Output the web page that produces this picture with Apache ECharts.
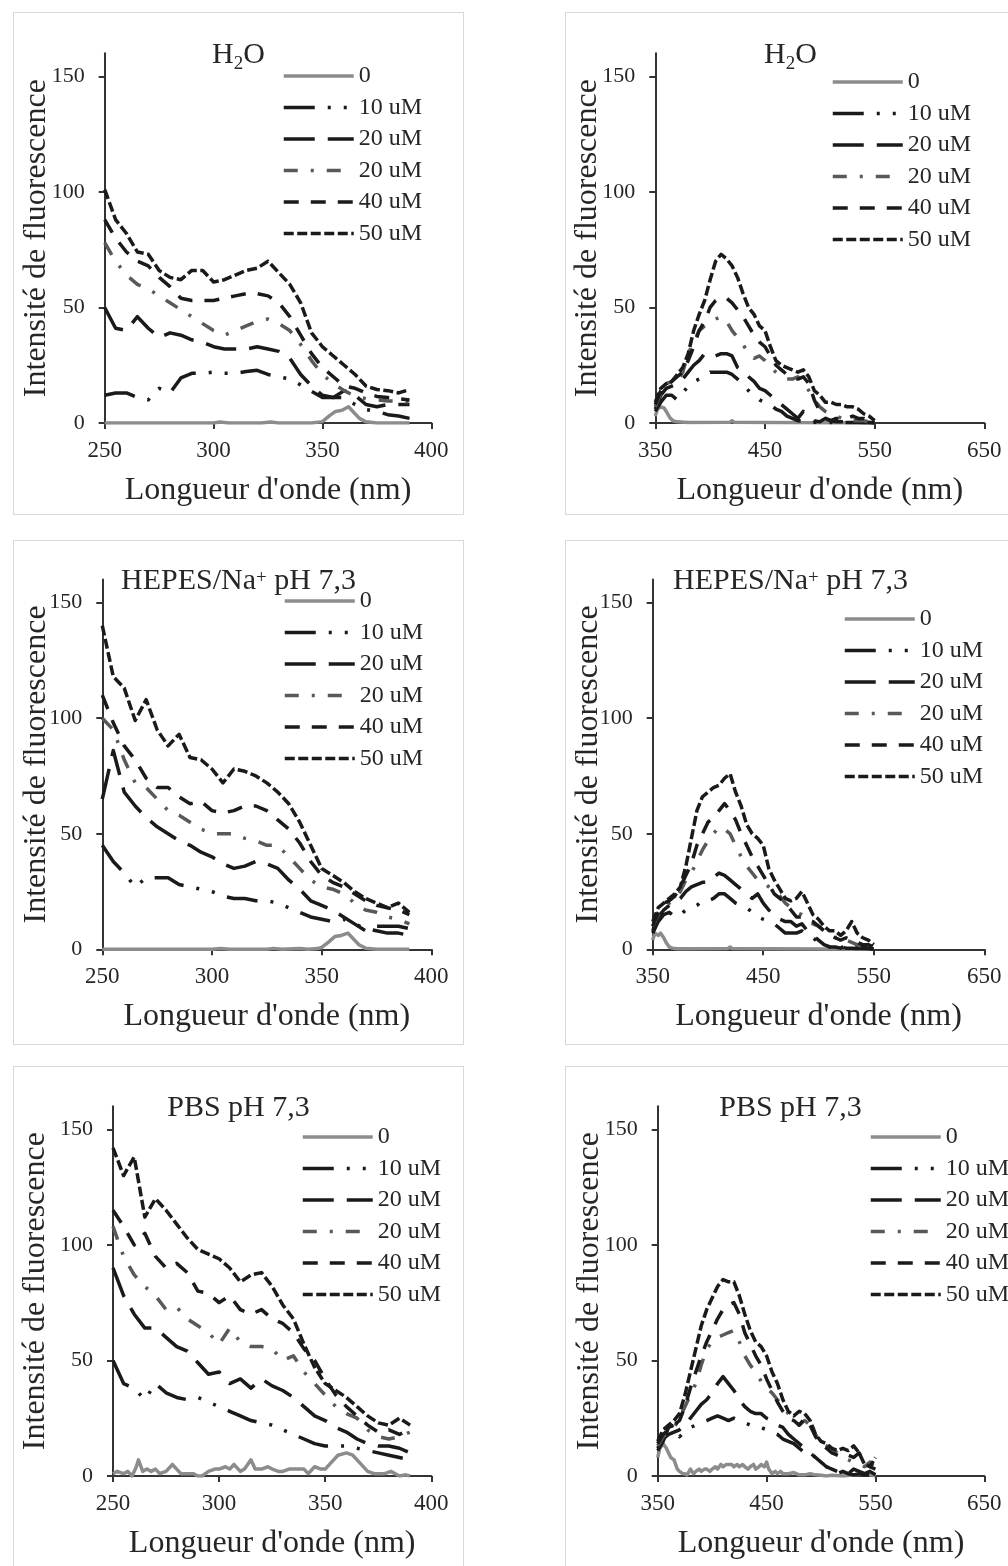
<!DOCTYPE html>
<html lang="fr">
<head>
<meta charset="utf-8">
<title>Spectres de fluorescence</title>
<script src="https://cdn.jsdelivr.net/npm/echarts@6/dist/echarts.min.js"></script>
<style>
  html, body { margin: 0; padding: 0; background: #fff; overflow: hidden; }
  #page { position: relative; width: 1008px; height: 1566px; overflow: hidden; }
  .panel { position: absolute; width: 451px; border: 1.5px solid #d9d9d9; box-sizing: border-box; }
</style>
</head>
<body>
<div id="page">
  <div class="panel" id="p1" style="left:13px;top:12px;height:503px"></div>
  <div class="panel" id="p2" style="left:565px;top:12px;height:503px"></div>
  <div class="panel" id="p3" style="left:13px;top:540px;height:505px"></div>
  <div class="panel" id="p4" style="left:565px;top:540px;height:505px"></div>
  <div class="panel" id="p5" style="left:13px;top:1066px;height:503px"></div>
  <div class="panel" id="p6" style="left:565px;top:1066px;height:503px"></div>
</div>
<script>
// longueurs d'onde (nm)
const lambdaUV = [250, 255, 260, 265, 270, 275, 280, 285, 290, 295, 300, 305, 310, 315, 320,
  325, 330, 335, 340, 345, 350, 355, 360, 365, 370, 375, 380, 385, 390]
const lambdaVis = [350, 355, 360, 365, 370, 375, 380, 385, 390, 395, 400, 405, 410, 415, 420,
  425, 430, 435, 440, 445, 450, 455, 460, 465, 470, 475, 480, 485, 490, 495, 500, 505, 510,
  515, 520, 525, 530, 535, 540, 545, 550]

// graduations
const yTicks = [0, 50, 100, 150]
const xTicksUV = [250, 300, 350, 400]
const xTicksVis = [350, 450, 550, 650]

// légende
const legendNames = ['0', '10 uM', '20 uM', '20 uM ', '40 uM', '50 uM']

// ---- H2O, 250-390 nm ----
const h2oUV0x = [250, 300, 303, 307, 322, 326, 330, 345, 350, 353, 356, 359, 362, 364, 367, 370, 375, 390]
const h2oUV0 = [0, 0, 0.4, 0, 0, 0.4, 0, 0, 0.6, 3, 5, 5.5, 7, 5, 2, 0.5, 0, 0]
const h2oUV10 = [12, 13, 13, 11, 10, 15, 13, 19.5, 21.5, 21.5, 22, 21.5, 21.5, 22.3, 22.8, 21, 20, 19, 16.5, 13.7, 11, 11, 11, 8, 5.8, 5, 3.6, 3, 2]
const h2oUV20a = [50, 41, 40, 46, 41, 37, 39, 38, 36, 35, 33, 32, 32, 32, 33, 32, 31, 28, 21, 16, 12, 11, 14, 12, 8, 7, 8, 8, 8]
const h2oUV20b = [78, 70, 64, 60, 58, 55, 52, 49, 46, 43, 40, 38, 40, 42, 44, 45, 43, 40, 34, 27, 21, 17, 14, 11.5, 10.5, 10, 9.5, 9.5, 9]
const h2oUV40 = [88, 80, 74, 70, 68, 63, 59, 54, 53, 53, 53, 54, 55, 56, 56, 55, 52, 46, 38, 30, 24, 20, 16, 15, 13, 11.5, 11, 10.5, 10]
const h2oUV50 = [101, 88, 82, 74, 73, 66, 63, 62, 66, 66, 61, 62, 64, 66, 67, 70, 65, 60, 52, 39, 33, 29, 25, 21, 16, 14.5, 14, 13, 14.5]

// ---- H2O, 350-550 nm ----
const h2oVis0x = [350, 352, 355, 358, 360, 363, 366, 370, 380, 418, 420, 422, 450, 550]
const h2oVis0 = [3, 6, 7, 6.5, 5, 2.5, 1, 0.5, 0.2, 0.3, 1, 0.3, 0.2, 0]
const h2oVis10 = [5, 9, 12, 12, 10, 13, 16, 18, 19, 20, 22, 22, 22, 22, 21, 19, 17, 14, 12, 10, 9, 8, 6, 5, 3, 2, 1, 1, 0.5, 0.3, 0.2, 0.2, 0.2, 0.2, 0.2, 0.2, 0.2, 0.2, 0.2, 0.2, 0]
const h2oVis20a = [6, 12, 15, 16, 17, 19, 22, 25, 27, 30, 30, 29, 30, 30, 29, 24, 22, 20, 18, 15, 14, 12, 10, 8, 6, 4, 2, 5, 3, 1, 0.5, 2, 1, 0.5, 0.5, 0.5, 0.3, 0.3, 0.2, 0.2, 0]
const h2oVis20b = [7, 13, 17, 18, 18, 22, 30, 35, 40, 42, 44, 45, 46, 44, 40, 37, 34, 30, 28, 29, 27, 24, 22, 20, 19, 19, 20, 18, 14, 10, 7, 5, 4, 3, 2, 2, 1, 1, 1, 0.5, 0]
const h2oVis40 = [8, 14, 16, 18, 20, 22, 27, 33, 40, 44, 50, 53, 54, 54, 52, 49, 46, 42, 38, 35, 33, 29, 25, 23, 21, 20, 19, 20, 17, 10, 5, 2, 1, 2, 2, 2, 3, 2, 2, 1, 0.5]
const h2oVis50 = [9, 15, 17, 18, 21, 24, 30, 40, 47, 53, 62, 70, 73, 71, 68, 63, 56, 50, 47, 42, 40, 33, 27, 25, 24, 23, 22, 23, 20, 14, 12, 9, 9, 8, 8, 7, 7, 6, 4, 3, 1]

// ---- HEPES/Na+, 250-390 nm ----
const hepesUV0x = [250, 300, 304, 308, 325, 328, 332, 340, 344, 348, 350, 353, 356, 359, 362, 364, 367, 370, 375, 390]
const hepesUV0 = [0, 0, 0.3, 0, 0, 0.4, 0, 0.3, 0, 0.3, 0.8, 3, 5.5, 6, 7, 5, 2, 0.5, 0, 0]
const hepesUV10 = [45, 38, 33, 27, 31, 31, 31, 28, 27, 26, 25, 23, 22, 22, 21, 21, 20, 18, 16, 14, 13, 12, 13, 11, 9, 8, 7, 7, 6]
const hepesUV20a = [65, 86, 68, 62, 57, 53, 50, 47, 45, 42, 40, 37, 35, 36, 38, 37, 35, 30, 26, 21, 19, 17, 14, 11, 8, 10, 10, 10, 9]
const hepesUV20b = [100, 95, 82, 72, 70, 65, 60, 58, 55, 52, 50, 50, 50, 48, 47, 45, 45, 40, 35, 30, 27, 26, 24, 20, 17, 16, 14, 13, 11]
const hepesUV40 = [110, 98, 88, 82, 74, 70, 70, 66, 63, 64, 60, 59, 60, 62, 62, 60, 56, 52, 46, 38, 32, 29, 27, 24, 21, 19, 18, 17, 15]
const hepesUV50 = [140, 118, 113, 99, 108, 95, 88, 93, 83, 82, 78, 72, 78, 77, 75, 72, 68, 63, 55, 45, 35, 32, 29, 25, 22, 20, 18, 20, 16]

// ---- HEPES/Na+, 350-550 nm ----
const hepesVis0x = [350, 352, 355, 357, 360, 362, 365, 368, 372, 418, 420, 422, 460, 550]
const hepesVis0 = [4, 7, 6, 7, 5, 3, 1, 0.5, 0.2, 0.3, 1, 0.3, 0.2, 0]
const hepesVis10 = [7, 12, 15, 16, 14, 15, 17, 18, 19, 21, 21, 22, 24, 24, 22, 20, 19, 18, 16, 14, 13, 12, 11, 9, 7, 7, 7, 8, 6, 5, 3, 2, 1, 1, 1, 0.5, 0.5, 0.3, 0.3, 0.2, 0]
const hepesVis20a = [8, 14, 17, 19, 20, 22, 25, 27, 28, 29, 29, 31, 33, 32, 30, 28, 26, 24, 22, 24, 20, 17, 15, 13, 12, 12, 10, 11, 8, 6, 4, 2, 1, 1, 0.5, 2, 1, 2, 1, 0.5, 0]
const hepesVis20b = [10, 15, 18, 20, 22, 25, 30, 33, 38, 43, 47, 50, 53, 52, 50, 45, 40, 36, 33, 30, 29, 27, 25, 23, 20, 18, 16, 15, 13, 11, 10, 8, 6, 5, 6, 4, 3, 2, 1, 1, 0.5]
const hepesVis40 = [10, 16, 20, 21, 23, 27, 32, 37, 45, 50, 55, 57, 60, 63, 60, 56, 50, 45, 40, 36, 32, 28, 24, 22, 20, 17, 14, 14, 13, 12, 10, 8, 6, 5, 4, 5, 4, 3, 2, 2, 1]
const hepesVis50 = [12, 18, 20, 22, 24, 27, 36, 48, 60, 66, 68, 70, 71, 74, 76, 68, 62, 54, 50, 48, 45, 35, 30, 26, 22, 21, 22, 25, 20, 15, 13, 10, 8, 8, 6, 8, 12, 7, 5, 4, 2]

// ---- PBS, 250-390 nm ----
const pbsUV0x = [250, 252, 255, 257, 259, 261, 262, 264, 266, 268, 270, 272, 275, 278, 280, 282, 285, 288, 290, 292,
  295, 298, 300, 303, 305, 307, 310, 312, 315, 317, 320, 323, 325, 328, 330, 333, 335, 338, 340, 342,
  345, 348, 350, 353, 356, 360, 363, 366, 370, 373, 375, 378, 381, 383, 385, 388, 390]
const pbsUV0 = [1, 2, 1, 2, 0, 4, 7, 2, 3, 2, 3, 1, 2, 5, 3, 1, 1, 1, 0, 0,
  2, 3, 3, 4, 3, 5, 2, 3, 7, 3, 3, 4, 3, 2, 2, 3, 3, 3, 3, 1,
  4, 3, 3, 6, 9, 10, 9, 6, 2, 1, 1, 1, 2, 1, 0, 0.5, 0]
const pbsUV10 = [50, 40, 38, 33, 40, 36, 34, 33, 34, 32, 30, 28, 26, 24, 23, 22, 20, 18, 16, 14, 13, 13, 13, 12, 11, 10, 9, 8, 7]
const pbsUV20a = [90, 78, 70, 64, 64, 60, 56, 54, 49, 44, 45, 40, 42, 38, 42, 39, 37, 34, 30, 26, 24, 21, 19, 16, 14, 13, 13, 12, 10]
const pbsUV20b = [108, 95, 87, 82, 78, 72, 73, 68, 65, 62, 57, 64, 58, 56, 56, 55, 50, 52, 45, 40, 35, 30, 27, 25, 20, 17, 16, 17, 19]
const pbsUV40 = [115, 108, 100, 105, 95, 90, 92, 88, 80, 79, 75, 78, 72, 70, 72, 68, 66, 62, 55, 50, 42, 35, 30, 26, 22, 19, 20, 18, 20]
const pbsUV50 = [142, 130, 138, 112, 120, 115, 109, 103, 98, 96, 94, 90, 84, 87, 88, 82, 74, 68, 57, 47, 40, 37, 34, 30, 26, 23, 22, 25, 22]

// ---- PBS, 350-550 nm ----
const pbsVis0x = [350, 352, 355, 358, 360, 362, 365, 368, 370, 373, 375, 377, 380, 383, 385, 388, 390, 393, 395, 398,
  400, 403, 405, 408, 410, 413, 415, 418, 420, 423, 425, 428, 430, 433, 435, 438, 440, 443, 445, 448,
  450, 452, 455, 458, 460, 463, 465, 470, 475, 480, 485, 490, 495, 500, 505, 510, 520, 540, 545, 550]
const pbsVis0 = [8, 12, 14, 12, 10, 8, 7, 3, 2, 1, 1, 0.5, 3, 1, 2, 3, 2, 3, 3, 2,
  3, 4, 3, 5, 4, 5, 5, 5, 4, 5, 4, 5, 4, 3, 4, 5, 3, 4, 5, 4,
  6, 3, 1, 2, 1, 2, 1, 1, 1.5, 0.5, 0.5, 1, 0.5, 0.3, 0, 0.3, 0, 1, 0.5, 0]
const pbsVis10 = [11, 15, 21, 22, 17, 19, 21, 22, 23, 24, 25, 26, 25, 24, 25, 24, 23, 22, 22, 21, 20, 19, 18, 16, 15, 14, 12, 10, 10, 8, 6, 4, 3, 1, 2, 1, 0.5, 1, 0.5, 0.5, 0]
const pbsVis20a = [12, 16, 18, 19, 20, 22, 25, 28, 31, 33, 36, 40, 43, 40, 37, 33, 30, 28, 27, 27, 25, 24, 22, 21, 18, 16, 14, 12, 10, 8, 6, 4, 3, 2, 2, 1, 3, 2, 1, 2, 0.5]
const pbsVis20b = [13, 17, 19, 21, 25, 30, 35, 40, 48, 55, 58, 60, 61, 62, 63, 58, 52, 48, 45, 41, 38, 36, 33, 30, 27, 24, 22, 24, 22, 18, 14, 13, 12, 10, 8, 7, 6, 5, 4, 6, 3]
const pbsVis40 = [14, 18, 20, 22, 24, 30, 38, 45, 52, 58, 63, 68, 72, 74, 75, 70, 62, 57, 52, 48, 42, 37, 32, 28, 25, 24, 22, 25, 22, 17, 14, 12, 10, 9, 8, 9, 8, 10, 6, 4, 3]
const pbsVis50 = [15, 20, 22, 24, 27, 35, 45, 55, 65, 72, 77, 82, 85, 84, 84, 78, 70, 63, 58, 56, 52, 45, 40, 33, 28, 26, 28, 27, 24, 18, 15, 14, 12, 11, 12, 11, 13, 10, 5, 4, 8]

const FONT = "'Liberation Serif', 'Times New Roman', serif"
const TEXT = '#262626'
const AXIS = '#333333'

// style de trait de chaque concentration (même ordre que legendNames)
const lineLooks = [
  { color: '#8c8c8c', type: 'solid' },
  { color: '#1a1a1a', type: [31, 13, 3, 13, 3, 13] },
  { color: '#1a1a1a', type: [31, 13] },
  { color: '#595959', type: [14, 13, 3, 13] },
  { color: '#1a1a1a', type: [15, 12] },
  { color: '#1a1a1a', type: [10, 3.5] }
]

const titleRich = {
  t: { fontFamily: FONT, fontSize: 30, fontWeight: 'normal', color: TEXT, verticalAlign: 'top' },
  s: { fontFamily: FONT, fontSize: 19, fontWeight: 'normal', color: TEXT, verticalAlign: 'top', padding: [15, 0, 0, 0] },
  p: { fontFamily: FONT, fontSize: 19, fontWeight: 'normal', color: TEXT, verticalAlign: 'top', padding: [3, 0, 0, 0] }
}

const zip = (xs, ys) => xs.map((x, i) => [x, ys[i]])

const panels = [
  {
    id: 'p1', title: '{t|H}{s|2}{t|O}', titleTop: 27,
    grid: [90.7, 40.2, 326.6, 369.8], yNameGap: 52, legend: [268, 51],
    xMin: 250, xMax: 400, xTicks: xTicksUV,
    curves: [[h2oUV0x, h2oUV0], [lambdaUV, h2oUV10], [lambdaUV, h2oUV20a], [lambdaUV, h2oUV20b], [lambdaUV, h2oUV40], [lambdaUV, h2oUV50]]
  },
  {
    id: 'p2', title: '{t|H}{s|2}{t|O}', titleTop: 27,
    grid: [89.3, 40.2, 329, 369.8], yNameGap: 52, legend: [265, 57],
    xMin: 350, xMax: 650, xTicks: xTicksVis,
    curves: [[h2oVis0x, h2oVis0], [lambdaVis, h2oVis10], [lambdaVis, h2oVis20a], [lambdaVis, h2oVis20b], [lambdaVis, h2oVis40], [lambdaVis, h2oVis50]]
  },
  {
    id: 'p3', title: '{t|HEPES/Na}{p|+}{t| pH 7,3}', titleTop: 25,
    grid: [88.3, 38.5, 329, 369.8], yNameGap: 50, legend: [269, 48],
    xMin: 250, xMax: 400, xTicks: xTicksUV,
    curves: [[hepesUV0x, hepesUV0], [lambdaUV, hepesUV10], [lambdaUV, hepesUV20a], [lambdaUV, hepesUV20b], [lambdaUV, hepesUV40], [lambdaUV, hepesUV50]]
  },
  {
    id: 'p4', title: '{t|HEPES/Na}{p|+}{t| pH 7,3}', titleTop: 25,
    grid: [86.7, 38.5, 331.6, 369.8], yNameGap: 48, legend: [277, 66],
    xMin: 350, xMax: 650, xTicks: xTicksVis,
    curves: [[hepesVis0x, hepesVis0], [lambdaVis, hepesVis10], [lambdaVis, hepesVis20a], [lambdaVis, hepesVis20b], [lambdaVis, hepesVis40], [lambdaVis, hepesVis50]]
  },
  {
    id: 'p5', title: '{t|PBS pH 7,3}', titleTop: 26,
    grid: [99, 39.2, 318.3, 369.8], yNameGap: 61, legend: [287, 58],
    xMin: 250, xMax: 400, xTicks: xTicksUV,
    curves: [[pbsUV0x, pbsUV0], [lambdaUV, pbsUV10], [lambdaUV, pbsUV20a], [lambdaUV, pbsUV20b], [lambdaUV, pbsUV40], [lambdaUV, pbsUV50]]
  },
  {
    id: 'p6', title: '{t|PBS pH 7,3}', titleTop: 26,
    grid: [91.7, 39.2, 326.6, 369.8], yNameGap: 52, legend: [303, 58],
    xMin: 350, xMax: 650, xTicks: xTicksVis,
    curves: [[pbsVis0x, pbsVis0], [lambdaVis, pbsVis10], [lambdaVis, pbsVis20a], [lambdaVis, pbsVis20b], [lambdaVis, pbsVis40], [lambdaVis, pbsVis50]]
  }
]

// dessine un panneau
const drawPanel = (p) => {
  const chart = echarts.init(document.getElementById(p.id))
  const option = {
    animation: false,
    title: {
      text: p.title,
      left: 'center',
      top: p.titleTop,
      padding: 0,
      textStyle: { fontWeight: 'normal', rich: titleRich }
    },
    legend: {
      orient: 'vertical',
      left: p.legend[0],
      top: p.legend[1],
      padding: 0,
      itemWidth: 70,
      itemHeight: 2,
      itemGap: 7.5,
      selectedMode: false,
      textStyle: { fontFamily: FONT, fontSize: 24, color: TEXT, lineHeight: 24 },
      data: legendNames.map((name, i) => ({
        name,
        itemStyle: { opacity: 0 },
        lineStyle: { color: lineLooks[i].color, width: 3.5, type: lineLooks[i].type }
      }))
    },
    grid: {
      left: p.grid[0],
      top: p.grid[1],
      width: p.grid[2],
      height: p.grid[3],
      outerBoundsMode: 'none'
    },
    xAxis: {
      type: 'value',
      min: p.xMin,
      max: p.xMax,
      name: "Longueur d'onde (nm)",
      nameLocation: 'middle',
      nameGap: 51.5,
      nameMoveOverlap: false,
      nameTextStyle: { fontFamily: FONT, fontSize: 32, color: TEXT },
      axisLine: { lineStyle: { color: AXIS, width: 2 } },
      axisTick: { length: 6, lineStyle: { color: AXIS, width: 2 }, customValues: p.xTicks },
      axisLabel: { customValues: p.xTicks, margin: 16, fontFamily: FONT, fontSize: 23, color: TEXT },
      splitLine: { show: false }
    },
    yAxis: {
      type: 'value',
      min: 0,
      max: 160,
      name: 'Intensité de fluorescence',
      nameLocation: 'middle',
      nameRotate: 90,
      nameGap: p.yNameGap,
      nameMoveOverlap: false,
      nameTextStyle: { fontFamily: FONT, fontSize: 32, color: TEXT },
      axisLine: { show: true, lineStyle: { color: AXIS, width: 2 } },
      axisTick: { show: true, length: 6, lineStyle: { color: AXIS, width: 2 }, customValues: yTicks },
      axisLabel: { customValues: yTicks, margin: 20, fontFamily: FONT, fontSize: 22, color: TEXT },
      splitLine: { show: false }
    },
    series: p.curves.map(([xs, ys], i) => ({
      name: legendNames[i],
      type: 'line',
      data: zip(xs, ys),
      symbol: 'none',
      color: lineLooks[i].color,
      lineStyle: { color: lineLooks[i].color, width: 3.5, type: lineLooks[i].type, cap: 'butt', join: 'round' }
    }))
  }
  chart.setOption(option)
}

panels.forEach(drawPanel)
</script>
</body>
</html>
